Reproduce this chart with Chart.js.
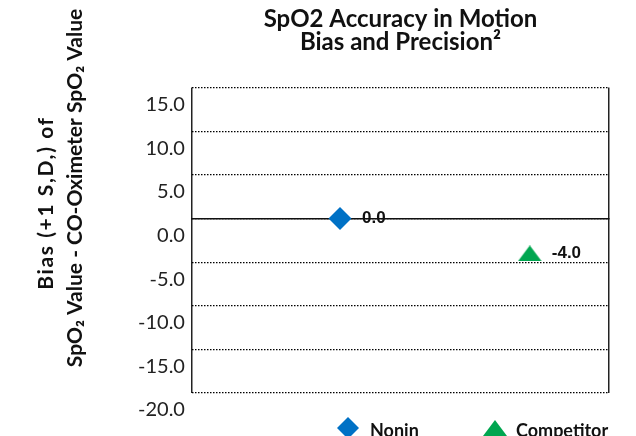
<!DOCTYPE html>
<html>
<head>
<meta charset="utf-8">
<script src="https://cdn.jsdelivr.net/npm/chart.js@4/dist/chart.umd.min.js"></script>
<style>
  body { margin: 0; background: #fff; }
  canvas { display: block; }
</style>
</head>
<body>
<canvas id="chart" width="636" height="436"></canvas>
<script>
const categories = ['Nonin', 'Competitor'];
const biasValues = [0.0, -4.0];
const xSlots = [0.71, 1.62]; // where each device sits along the 0-2 x range
const yTicks = [15, 10, 5, 0, -5, -10, -15, -20];

const titleLines = ['SpO2 Accuracy in Motion', 'Bias and Precision²'];
const yTitleLines = ['Bias (+1 S,D,) of', 'SpO₂ Value - CO-Oximeter SpO₂ Value'];

const colors = ['#0071C5', '#00A650'];

// flat triangle marker, centred on its point like the original
const makeTriangle = (w, h, color) => {
  const c = document.createElement('canvas');
  c.width = w;
  c.height = h;
  const g = c.getContext('2d');
  g.fillStyle = color;
  g.beginPath();
  g.moveTo(w / 2, 0);
  g.lineTo(w, h);
  g.lineTo(0, h);
  g.closePath();
  g.fill();
  return c;
};

const triangle = makeTriangle(24, 16, colors[1]);
const pointStyles = ['rectRot', triangle];
const pointSizes = [11.5, 12];

const drawMarker = (ctx, style, radius, color, x, y) => {
  ctx.save();
  ctx.fillStyle = color;
  if (typeof style === 'string') {
    ctx.beginPath();
    ctx.moveTo(x - radius, y);
    ctx.lineTo(x, y - radius);
    ctx.lineTo(x + radius, y);
    ctx.lineTo(x, y + radius);
    ctx.closePath();
    ctx.fill();
  } else {
    ctx.drawImage(style, x - style.width / 2, y - style.height / 2);
  }
  ctx.restore();
};

const valueLabels = {
  id: 'valueLabels',
  afterDatasetsDraw(chart) {
    const ctx = chart.ctx;
    ctx.save();
    ctx.font = 'bold 17px "Liberation Sans", Arial, sans-serif';
    ctx.fillStyle = '#111';
    ctx.textAlign = 'left';
    ctx.textBaseline = 'middle';
    chart.data.datasets.forEach((ds, i) => {
      chart.getDatasetMeta(i).data.forEach((pt, j) => {
        ctx.fillText(ds.data[j].y.toFixed(1), pt.x + 22, pt.y);
      });
    });
    ctx.restore();
  }
};

const sideTitle = {
  id: 'sideTitle',
  afterDraw(chart) {
    const ctx = chart.ctx;
    const spots = [[53, 203, '1.6px'], [82, 188, '0px']];
    ctx.save();
    ctx.font = 'bold 21px Lato, sans-serif';
    ctx.fillStyle = '#111';
    ctx.textAlign = 'center';
    ctx.textBaseline = 'alphabetic';
    yTitleLines.forEach((line, i) => {
      ctx.save();
      ctx.letterSpacing = spots[i][2];
      ctx.translate(spots[i][0], spots[i][1]);
      ctx.rotate(-Math.PI / 2);
      ctx.fillText(line, 0, 0);
      ctx.restore();
    });
    ctx.restore();
  }
};

const bottomLegend = {
  id: 'bottomLegend',
  afterDraw(chart) {
    const ctx = chart.ctx;
    const spots = [[348, 370], [495, 516]];
    ctx.save();
    ctx.font = 'bold 18px Lato, sans-serif';
    ctx.textBaseline = 'alphabetic';
    categories.forEach((name, i) => {
      drawMarker(ctx, pointStyles[i], 11, colors[i], spots[i][0], 428);
      ctx.fillStyle = '#111';
      ctx.fillText(name, spots[i][1], 437);
    });
    ctx.restore();
  }
};

new Chart(document.getElementById('chart'), {
  type: 'scatter',
  data: {
    datasets: categories.map((name, i) => ({
      label: name,
      data: [{ x: xSlots[i], y: biasValues[i] }],
      pointStyle: pointStyles[i],
      pointRadius: pointSizes[i],
      pointHoverRadius: pointSizes[i],
      backgroundColor: colors[i],
      borderWidth: 0
    }))
  },
  options: {
    responsive: false,
    animation: false,
    layout: {
      padding: { left: 131, right: 27, top: 0, bottom: 43 }
    },
    scales: {
      x: {
        type: 'linear',
        min: 0,
        max: 2,
        position: { y: 0 },
        ticks: { display: false, stepSize: 1 },
        // only the two outer edges get a solid frame line
        grid: {
          drawTicks: false,
          lineWidth: 1.5,
          color: (c) => (c.tick && c.tick.value !== 1 ? '#222' : 'rgba(0,0,0,0)')
        },
        border: { color: '#111', width: 1.5 }
      },
      y: {
        min: Math.min(...yTicks),
        max: Math.max(...yTicks),
        ticks: {
          stepSize: 5,
          padding: 7,
          labelOffset: 17,
          color: '#222',
          font: { family: 'Lato', size: 20 },
          callback: (v) => v.toFixed(1)
        },
        grid: { color: '#000', lineWidth: 1.2, drawTicks: false },
        border: { display: false, dash: [1.5, 1.5] }
      }
    },
    plugins: {
      legend: { display: false },
      tooltip: { enabled: false },
      title: {
        display: true,
        fullSize: false,
        text: titleLines,
        color: '#111',
        font: { family: 'Lato', size: 24, weight: 'bold', lineHeight: 0.95 },
        padding: { top: 8, bottom: 34 }
      }
    }
  },
  plugins: [valueLabels, sideTitle, bottomLegend]
});
</script>
</body>
</html>
